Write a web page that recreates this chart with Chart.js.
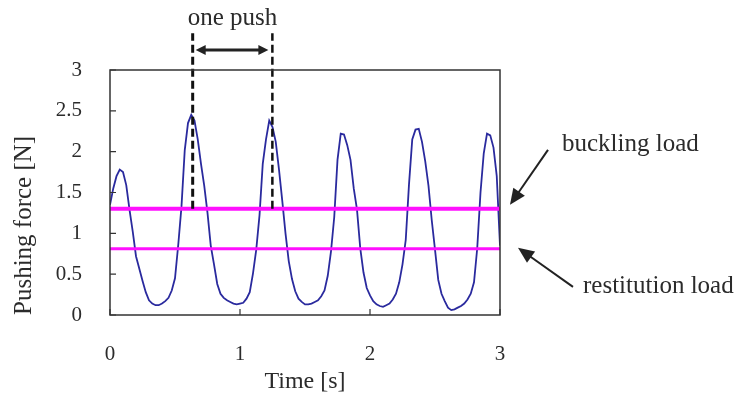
<!DOCTYPE html>
<html>
<head>
<meta charset="utf-8">
<script src="https://cdn.jsdelivr.net/npm/chart.js@4/dist/chart.umd.min.js"></script>
<style>
    html, body { margin: 0; padding: 0; background: #fff; }
</style>
</head>
<body>
<canvas id="myChart" width="737" height="399"></canvas>
<script>
// samples every 0.025 s
const sampleStep = 0.025;
const force = [
    1.35, 1.55, 1.70, 1.78, 1.75, 1.59, 1.29, 1.02, 0.72, 0.57,
    0.42, 0.28, 0.18, 0.14, 0.12, 0.12, 0.14, 0.17, 0.21, 0.30,
    0.45, 0.86, 1.33, 2.02, 2.35, 2.45, 2.38, 2.15, 1.85, 1.58,
    1.25, 0.85, 0.62, 0.38, 0.26, 0.21, 0.18, 0.16, 0.14, 0.13,
    0.14, 0.15, 0.20, 0.28, 0.51, 0.80, 1.22, 1.85, 2.15, 2.38,
    2.30, 2.12, 1.78, 1.40, 1.00, 0.66, 0.44, 0.29, 0.20, 0.16,
    0.13, 0.13, 0.14, 0.16, 0.18, 0.23, 0.30, 0.48, 0.78, 1.20,
    1.90, 2.22, 2.21, 2.08, 1.90, 1.55, 1.29, 0.82, 0.52, 0.33,
    0.24, 0.17, 0.13, 0.11, 0.10, 0.12, 0.14, 0.19, 0.26, 0.40,
    0.62, 0.92, 1.60, 2.15, 2.27, 2.28, 2.12, 1.88, 1.58, 1.16,
    0.80, 0.43, 0.26, 0.17, 0.09, 0.06, 0.07, 0.09, 0.11, 0.14,
    0.19, 0.26, 0.40, 0.82, 1.50, 1.98, 2.22, 2.20, 2.05, 1.70,
    0.85
];
const xTicks = [0, 1, 2, 3];
const yTicks = [0, 0.5, 1, 1.5, 2, 2.5, 3];

const bucklingLoad = 1.30;
const restitutionLoad = 0.81;
const pushStart = 0.636;   // dashed line 1
const pushEnd = 1.249;     // dashed line 2
const dashTop = 3.45;      // dashed lines go above the box
const pushArrowY = 3.245;

const serif = "'Liberation Serif', 'Times New Roman', serif";
const inkColor = '#2b2b2b';

const forceData = force.map((v, i) => ({ x: i * sampleStep, y: v }));

function arrowHead(ctx, x1, y1, x2, y2, len, half) {
    const a = Math.atan2(y2 - y1, x2 - x1);
    ctx.beginPath();
    ctx.moveTo(x2, y2);
    ctx.lineTo(x2 - len * Math.cos(a) + half * Math.sin(a), y2 - len * Math.sin(a) - half * Math.cos(a));
    ctx.lineTo(x2 - len * Math.cos(a) - half * Math.sin(a), y2 - len * Math.sin(a) + half * Math.cos(a));
    ctx.closePath();
    ctx.fill();
}

function arrowLine(ctx, x1, y1, x2, y2, len, half) {
    const a = Math.atan2(y2 - y1, x2 - x1);
    ctx.beginPath();
    ctx.moveTo(x1, y1);
    ctx.lineTo(x2 - len * 0.8 * Math.cos(a), y2 - len * 0.8 * Math.sin(a));
    ctx.stroke();
    arrowHead(ctx, x1, y1, x2, y2, len, half);
}

// box, inward ticks and annotations
const extras = {
    id: 'extras',
    afterDatasetsDraw(chart) {
        const ctx = chart.ctx;
        const xs = chart.scales.x, ys = chart.scales.y;
        const area = chart.chartArea;
        ctx.save();

        ctx.strokeStyle = '#333';
        ctx.lineWidth = 1.5;
        ctx.strokeRect(area.left, area.top, area.right - area.left, area.bottom - area.top);

        ctx.lineWidth = 1.2;
        ctx.beginPath();
        yTicks.forEach(v => {
            const y = ys.getPixelForValue(v);
            ctx.moveTo(area.left, y);
            ctx.lineTo(area.left + 6, y);
        });
        xTicks.forEach(v => {
            const x = xs.getPixelForValue(v);
            ctx.moveTo(x, area.bottom);
            ctx.lineTo(x, area.bottom - 6);
        });
        ctx.stroke();

        // one push arrow
        const yA = ys.getPixelForValue(pushArrowY);
        const xa1 = xs.getPixelForValue(pushStart) + 3;
        const xa2 = xs.getPixelForValue(pushEnd) - 4;
        ctx.strokeStyle = '#222';
        ctx.fillStyle = '#222';
        ctx.lineWidth = 3;
        ctx.beginPath();
        ctx.moveTo(xa1 + 8, yA);
        ctx.lineTo(xa2 - 8, yA);
        ctx.stroke();
        arrowHead(ctx, xa2, yA, xa1, yA, 10, 5);
        arrowHead(ctx, xa1, yA, xa2, yA, 10, 5);

        // load arrows
        const yB = ys.getPixelForValue(bucklingLoad);
        const yR = ys.getPixelForValue(restitutionLoad);
        ctx.lineWidth = 2;
        arrowLine(ctx, area.right + 48, yB - 59, area.right + 10, yB - 4, 16, 7);
        arrowLine(ctx, area.right + 73, yR + 38, area.right + 18, yR - 1, 16, 7);

        // texts
        ctx.fillStyle = inkColor;
        ctx.font = '25px ' + serif;
        ctx.textBaseline = 'middle';
        ctx.textAlign = 'center';
        ctx.fillText('one push', (xs.getPixelForValue(pushStart) + xs.getPixelForValue(pushEnd)) / 2, 18);
        ctx.textAlign = 'left';
        ctx.fillText('buckling load', area.right + 62, yB - 64);
        ctx.fillText('restitution load', area.right + 83, yR + 38);

        ctx.restore();
    }
};

const config = {
    type: 'line',
    data: {
        datasets: [
            {
                data: forceData,
                borderColor: '#2a2a9e',
                borderWidth: 1.8,
                pointRadius: 0,
                order: 3,
            },
            {
                data: [{ x: 0, y: bucklingLoad }, { x: 3, y: bucklingLoad }],
                borderColor: '#ff10ff',
                borderWidth: 4,
                pointRadius: 0,
                clip: false,
                order: 2,
            },
            {
                data: [{ x: 0, y: restitutionLoad }, { x: 3, y: restitutionLoad }],
                borderColor: '#ff10ff',
                borderWidth: 3,
                pointRadius: 0,
                clip: false,
                order: 2,
            },
            {
                data: [{ x: pushStart, y: bucklingLoad }, { x: pushStart, y: dashTop }],
                borderColor: '#111',
                borderWidth: 3,
                borderDash: [8, 4],
                pointRadius: 0,
                clip: false,
                order: 1,
            },
            {
                data: [{ x: pushEnd, y: bucklingLoad }, { x: pushEnd, y: dashTop }],
                borderColor: '#111',
                borderWidth: 2.5,
                borderDash: [8, 4],
                pointRadius: 0,
                clip: false,
                order: 1,
            },
        ],
    },
    options: {
        responsive: false,
        animation: false,
        layout: { padding: { top: 70, right: 237, left: 0, bottom: 0 } },
        plugins: {
            legend: false,
            tooltip: false,
        },
        scales: {
            x: {
                type: 'linear',
                min: 0,
                max: 3,
                afterBuildTicks: (s) => { s.ticks = xTicks.map(v => ({ value: v })); },
                afterFit: (s) => { s.height = 84; },
                grid: { display: false, drawTicks: false },
                border: { display: false },
                ticks: {
                    color: inkColor,
                    padding: 27,
                    autoSkip: false,
                    maxRotation: 0,
                    callback: (v) => String(v),
                    font: { family: serif, size: 21 },
                },
                title: {
                    display: true,
                    text: 'Time [s]',
                    color: inkColor,
                    padding: { top: 0, bottom: 3 },
                    font: { family: serif, size: 24 },
                },
            },
            y: {
                min: 0,
                max: 3,
                afterBuildTicks: (s) => { s.ticks = yTicks.map(v => ({ value: v })); },
                afterFit: (s) => { s.width = 110; },
                grid: { display: false, drawTicks: false },
                border: { display: false },
                ticks: {
                    color: inkColor,
                    padding: 28,
                    callback: (v) => String(v),
                    font: { family: serif, size: 21 },
                },
                title: {
                    display: true,
                    text: 'Pushing force [N]',
                    align: 'start',
                    color: inkColor,
                    padding: { top: 9, bottom: 0 },
                    font: { family: serif, size: 25 },
                },
            },
        },
    },
    plugins: [extras],
};

const myChart = new Chart(document.getElementById('myChart'), config);
</script>
</body>
</html>
